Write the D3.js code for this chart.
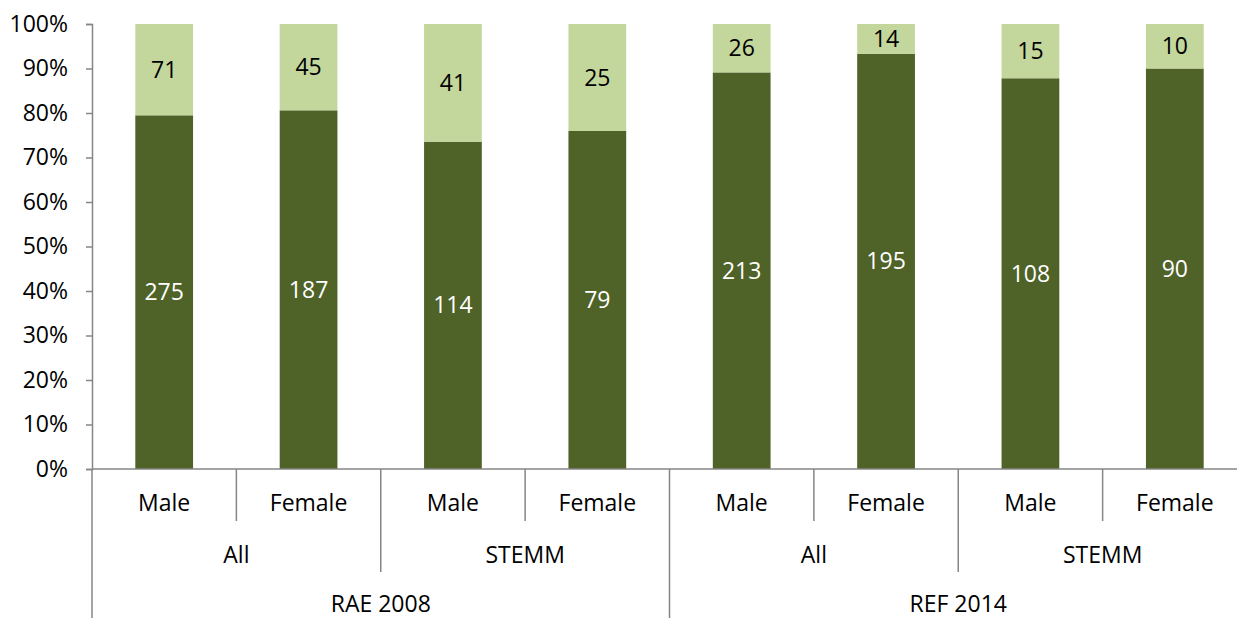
<!DOCTYPE html>
<html><head><meta charset="utf-8">
<script src="https://cdn.jsdelivr.net/npm/d3@7"></script>
<style>body{margin:0;background:#fff}svg{display:block}text{font-family:"Open Sans",sans-serif}</style>
</head><body><div id="c"></div>
<script>
const genders = ["Male","Female","Male","Female","Male","Female","Male","Female"];
const groups = ["All","STEMM","All","STEMM"];
const exercises = ["RAE 2008","REF 2014"];
const darkValues = [275,187,114,79,213,195,108,90];
const lightValues = [71,45,41,25,26,14,15,10];
const yTicks = [0,0.1,0.2,0.3,0.4,0.5,0.6,0.7,0.8,0.9,1.0];

const W=1237,H=618;
const mLeft=92, mRight=1247, mTop=24, mBottom=469;
const svg=d3.select("#c").append("svg").attr("width",W).attr("height",H);
const x=d3.scaleBand().domain(d3.range(8)).range([mLeft,mRight]).paddingInner(0.6).paddingOuter(0.3);
const xb=d3.scaleBand().domain(d3.range(8)).range([mLeft,mRight]);
const y=d3.scaleLinear().domain([0,1]).range([mBottom,mTop]);
const dark="#4F6228", light="#C3D69B", axisCol="#868686";
const fs=23;

const data=darkValues.map((d,i)=>({i,dark:d,light:lightValues[i],tot:d+lightValues[i]}));
const g=svg.append("g");
g.selectAll("rect.d").data(data).join("rect").attr("x",d=>x(d.i)).attr("width",x.bandwidth())
 .attr("y",d=>y(d.dark/d.tot)).attr("height",d=>y(0)-y(d.dark/d.tot)).attr("fill",dark);
g.selectAll("rect.l").data(data).join("rect").attr("x",d=>x(d.i)).attr("width",x.bandwidth())
 .attr("y",y(1)).attr("height",d=>y(d.dark/d.tot)-y(1)).attr("fill",light);
g.selectAll("text.d").data(data).join("text").attr("x",d=>x(d.i)+x.bandwidth()/2)
 .attr("y",d=>(y(0)+y(d.dark/d.tot))/2).attr("dy","0.35em").attr("text-anchor","middle")
 .attr("font-size",fs).attr("fill","#fff").text(d=>d.dark);
g.selectAll("text.l").data(data).join("text").attr("x",d=>x(d.i)+x.bandwidth()/2)
 .attr("y",d=>(y(1)+y(d.dark/d.tot))/2).attr("dy","0.35em").attr("text-anchor","middle")
 .attr("font-size",fs).attr("fill","#000").text(d=>d.light);

// y axis
const ya=svg.append("g").attr("transform",`translate(${mLeft},0)`)
 .call(d3.axisLeft(y).tickValues(yTicks).tickFormat(d3.format(".0%")).tickSize(6).tickPadding(18));
ya.select(".domain").attr("stroke",axisCol).attr("stroke-width",1.5);
ya.selectAll(".tick line").attr("stroke",axisCol).attr("stroke-width",1.5);
ya.selectAll(".tick text").attr("font-size",fs).attr("fill","#000").attr("font-family","Open Sans");

// x axis multi-level
const ax=svg.append("g").attr("stroke",axisCol).attr("stroke-width",1.5);
ax.append("line").attr("x1",mLeft).attr("x2",mRight).attr("y1",mBottom).attr("y2",mBottom);
const lvl1=mBottom+52, lvl2=mBottom+103, lvl3=H;
d3.range(9).forEach(i=>{
  const xx = i<8 ? xb(i) : mRight;
  const yy = i%4===0 ? lvl3 : (i%2===0 ? lvl2 : lvl1);
  ax.append("line").attr("x1",xx).attr("x2",xx).attr("y1",mBottom).attr("y2",yy);
});
svg.selectAll("text.g1").data(genders).join("text").attr("x",(d,i)=>xb(i)+xb.bandwidth()/2)
 .attr("y",mBottom+34).attr("dy","0.35em").attr("text-anchor","middle").attr("font-size",fs).text(d=>d);
svg.selectAll("text.g2").data(groups).join("text").attr("x",(d,i)=>xb(i*2)+xb.bandwidth())
 .attr("y",mBottom+86).attr("dy","0.35em").attr("text-anchor","middle").attr("font-size",fs).text(d=>d);
svg.selectAll("text.g3").data(exercises).join("text").attr("x",(d,i)=>xb(i*4)+xb.bandwidth()*2)
 .attr("y",mBottom+135).attr("dy","0.35em").attr("text-anchor","middle").attr("font-size",fs).text(d=>d);
</script></body></html>
